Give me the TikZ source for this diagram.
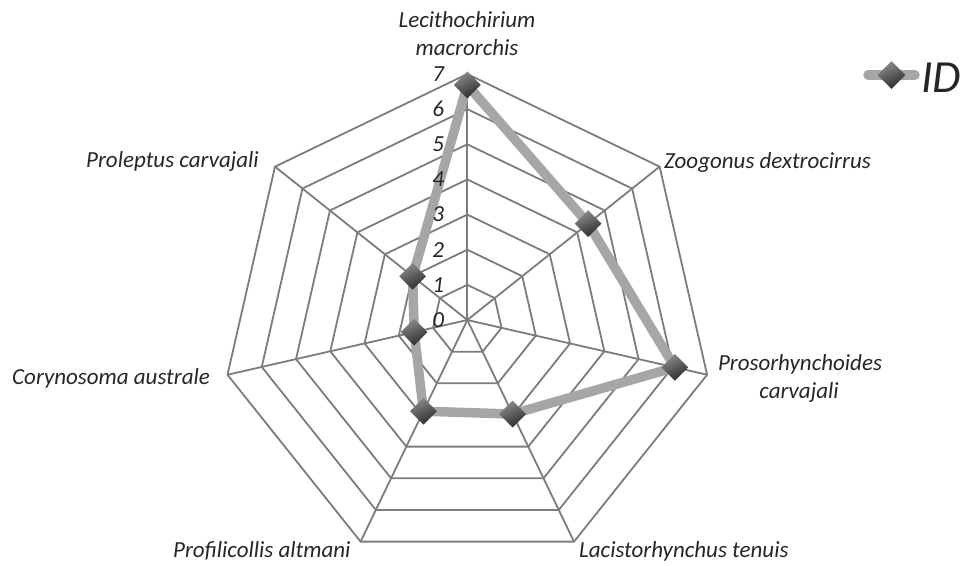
\documentclass[tikz,border=0pt]{standalone}
\usepackage{fontspec}
\setmainfont{Carlito}
\usetikzlibrary{shapes.geometric}
\definecolor{gridgray}{HTML}{7C7C7C}
\definecolor{datagray}{HTML}{A6A6A6}
\definecolor{txt}{HTML}{262626}
\definecolor{mkTop}{HTML}{8C8C8C}
\definecolor{mkBot}{HTML}{2A2A2A}
\begin{document}
\begin{tikzpicture}[x=1pt,y=-1pt,
  grid/.style={draw=gridgray,line width=1.8pt,line join=miter},
  dataline/.style={draw=datagray,line width=9.5pt,line join=round,line cap=round},
  marker/.style={diamond,minimum width=27pt,minimum height=27pt,inner sep=0pt,
    top color=mkTop,bottom color=mkBot,shading angle=25},
  lbl/.style={font=\fontsize{23}{28}\selectfont\itshape,text=txt,inner sep=0pt},
  tick/.style={font=\fontsize{23}{28}\selectfont\itshape,text=txt,inner sep=0pt,anchor=east},
]
\useasboundingbox (0,0) rectangle (963,565);
\def\U{35.14}
\begin{scope}[shift={(467.3,320)}]
  \coordinate (c) at (0,0);
  % outer vertices
  \foreach \i in {0,...,6}{
    \coordinate (v\i) at ({-90+\i*360/7}:{7*\U});
  }
  % rings
  \foreach \k in {1,...,7}{
    \draw[grid] (-90:{\k*\U}) \foreach \i in {1,...,6}{ -- ({-90+\i*360/7}:{\k*\U}) } -- cycle;
  }
  % spokes
  \foreach \i in {0,...,6}{
    \draw[grid] (c) -- (v\i);
  }
  % data points
  \coordinate (d0) at ({-90+0*360/7}:{6.69*\U});
  \coordinate (d1) at ({-90+1*360/7}:{4.40*\U});
  \coordinate (d2) at ({-90+2*360/7}:{6.06*\U});
  \coordinate (d3) at ({-90+3*360/7}:{2.97*\U});
  \coordinate (d4) at ({-90+4*360/7}:{2.88*\U});
  \coordinate (d5) at ({-90+5*360/7}:{1.55*\U});
  \coordinate (d6) at ({-90+6*360/7}:{1.99*\U});
  \draw[dataline] (d0) -- (d1) -- (d2) -- (d3) -- (d4) -- (d5) -- (d6) -- cycle;
  % tick labels
  \foreach \k in {0,...,7}{
    \node[tick] (t\k) at (-23,{-\k*\U}) {\k};
  }
  \foreach \i in {0,...,6}{
    \node[marker] (m\i) at (d\i) {};
  }
\end{scope}
% axis labels
\node[lbl,anchor=base] (l0a) at (467,27) {Lecithochirium};
\node[lbl,anchor=base] (l0b) at (467,55) {macrorchis};
\node[lbl,anchor=base west] (l1) at (664,168) {Zoogonus dextrocirrus};
\node[lbl,anchor=base] (l2a) at (800,370) {Prosorhynchoides};
\node[lbl,anchor=base] (l2b) at (799,398) {carvajali};
\node[lbl,anchor=base west] (l3) at (579,557) {Lacistorhynchus tenuis};
\node[lbl,anchor=base west] (l4) at (173,557) {Profilicollis altmani};
\node[lbl,anchor=base west] (l5) at (12,384) {Corynosoma australe};
\node[lbl,anchor=base west] (l6) at (86,167) {Proleptus carvajali};
% legend
\coordinate (lgA) at (868,75);
\coordinate (lgB) at (915,75);
\draw[dataline] (lgA) -- (lgB);
\node[marker,minimum width=28pt,minimum height=28pt] (lgM) at (891.5,75) {};
\node[font=\fontsize{46}{50}\selectfont\itshape,text=txt,inner sep=0pt,anchor=base west] (lgT) at (921,92) {ID};
\end{tikzpicture}
\end{document}
